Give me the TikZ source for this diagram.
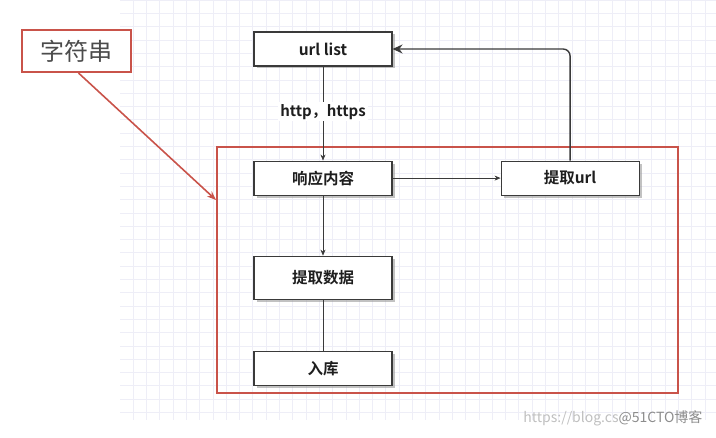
\documentclass[tikz,border=0pt]{standalone}
\usepackage{fontspec}
\setmainfont{Noto Sans CJK SC}[BoldFont={Noto Sans CJK SC Bold}]
\usepackage{xcolor}
\usetikzlibrary{arrows.meta, positioning, shadows}
\definecolor{cred}{HTML}{C9534A}
\definecolor{cline}{HTML}{3A3A3A}
\definecolor{cgrid}{HTML}{EEEEF7}
\definecolor{ctextd}{HTML}{1E1E1E}
\tikzset{
  box/.style 2 args={
    draw=cline, fill=white, line width=1.1pt,
    text=ctextd, font=\bfseries\fontsize{15.5}{17}\selectfont,
    minimum width=#1, minimum height=#2,
    inner sep=0pt,
    drop shadow={shadow xshift=2.5pt, shadow yshift=-2.5pt, fill=black!40, opacity=.6},
  },
  tag/.style={
    draw=cred, fill=white, line width=2pt,
    text=ctextd!80, font=\fontsize{24}{26}\selectfont,
    minimum width=109pt, minimum height=42pt, inner sep=0pt,
  },
  frame/.style={draw=cred, line width=2pt, inner sep=0pt},
  lbl/.style={font=\bfseries\fontsize{15}{17}\selectfont, text=ctextd, fill=white, inner sep=2pt},
  arr/.style={
    -{Stealth[length=6pt,width=5pt]},
    line width=0.6pt, color=cline,
  },
  arrback/.style={
    -{Stealth[length=10pt,width=9pt]},
    line width=1.4pt, color=cline, rounded corners=7pt,
  },
  arrtag/.style={
    -{Stealth[length=9pt,width=7pt]},
    line width=1.6pt, color=cred,
  },
}

\begin{document}
\begin{tikzpicture}[x=1pt, y=-1pt]
\useasboundingbox (0,0) rectangle (716,438);

%% -- grid paper ----------------------------------------------
\draw[cgrid, line width=0.5pt, step=13.3pt] (120,0) grid (716,420);

%% -- frame and tag -------------------------------------------
\node[frame, minimum width=461pt, minimum height=246pt] (frame) at (447.5,270) {};
\node[tag] (tag) at (76.5,51) {字符串};

%% -- boxes -----------------------------------------------------
\node[box={138pt}{34pt}] (urllist) at (323,49) {url list};
\node[box={138pt}{34pt}, below=94pt of urllist] (resp) {响应内容};
\node[box={138pt}{34pt}, right=108pt of resp] (extract) {提取url};
\node[box={138pt}{43pt}, below=60pt of resp] (data) {提取数据};
\node[box={138pt}{34pt}, below=51pt of data] (store) {入库};

%% -- connectors ------------------------------------------------
\draw[arr] (urllist) -- node[lbl, pos=0.48] (proto) {http，https} (resp);
\draw[arr] (resp) -- (extract);
\draw[arr] (resp) -- (data);
\draw[line width=0.6pt, cline] (data) -- (store);
\draw[arrback] (extract.north) |- (urllist.east);
\draw[arrtag] ([xshift=2pt]tag.south) -- ([yshift=70pt]frame.west);

%% -- watermark -------------------------------------------------
\node[font=\fontsize{14}{16}\selectfont, text=black!25, anchor=east] (mark) at (706,418)
  {https://blog.cs\textcolor{black!45}{@51CTO博客}};

\end{tikzpicture}
\end{document}
